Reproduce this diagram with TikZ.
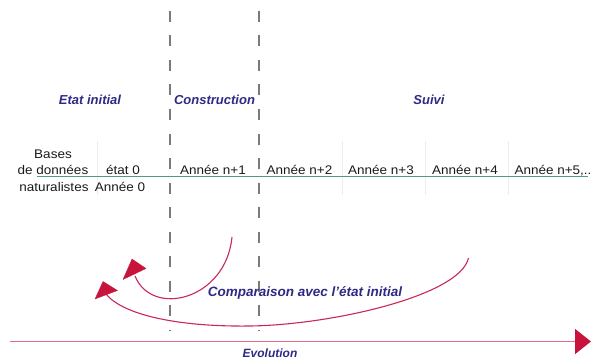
\documentclass[tikz,border=0pt]{standalone}
\usepackage{fontspec}
\setmainfont{Liberation Sans}
\newfontfamily\regfont[FakeStretch=1.08]{Liberation Sans}
\usetikzlibrary{arrows.meta}
\definecolor{navy}{HTML}{2E2A85}
\definecolor{curvered}{HTML}{C8285A}
\definecolor{headred}{HTML}{C8143C}
\definecolor{axispink}{RGB}{222,110,140}
\definecolor{lineGreen}{HTML}{4F9E7A}
\definecolor{dashgray}{HTML}{7A7A7A}
\definecolor{txt}{HTML}{1A1A1A}
\tikzset{
  header/.style={font=\fontsize{13}{15}\selectfont\bfseries\itshape, text=navy, inner sep=0pt, anchor=base},
  cell/.style={font=\regfont\fontsize{12.5}{16.5}\selectfont, text=txt, inner sep=0pt, anchor=base},
  phase/.style={draw=dashgray, line width=1.8pt, dash pattern=on 11pt off 13.5pt},
  sep/.style={draw=black!7, line width=0.8pt},
  compcurve/.style={draw=curvered, line width=1.1pt},
  tipfill/.style={fill=headred, draw=headred, line width=0.3pt, line join=round},
  axisline/.style={draw=axispink, line width=1.6pt, -{Triangle[length=16pt,width=25pt,color=headred,fill=headred]}}
}
\begin{document}
\begin{tikzpicture}[x=1pt, y=-1pt]
\useasboundingbox (0,0) rectangle (592,361);
% faint cell separators
\foreach \xx in {97,342,425,508} \draw[sep] (\xx,141) -- (\xx,195);
% phase dividers
\coordinate (d1top) at (170,11); \coordinate (d1bot) at (170,330);
\coordinate (d2top) at (259,11); \coordinate (d2bot) at (259,330);
\draw[phase] (d1top) -- (d1bot);
\draw[phase] (d2top) -- (d2bot);
% headers
\node[header] (etat) at (90,105) {Etat initial};
\node[header] (constr) at (214.5,105) {Construction};
\node[header] (suivi) at (429,105) {Suivi};
% timeline
\coordinate (gl) at (37,176.5); \coordinate (gr) at (588,176.5);
\draw[draw=lineGreen, line width=1.2pt] (gl) -- (gr);
\node[cell] (b1) at (53,158) {Bases};
\node[cell] (b2) at (53,174.5) {de données};
\node[cell] (b3) at (54,191) {naturalistes};
\node[cell] (e0) at (123,174.5) {état 0};
\node[cell] (a0) at (120,191) {Année 0};
\node[cell] (a1) at (213,174.5) {Année n+1};
\node[cell] (a2) at (299.5,174.5) {Année n+2};
\node[cell] (a3) at (381,174.5) {Année n+3};
\node[cell] (a4) at (465,174.5) {Année n+4};
\node[cell] (a5) at (553,174.5) {Année n+5,..};
% comparison curves
\coordinate (c1s) at (232,237); \coordinate (c1e) at (135,276);
\draw[compcurve] (c1s) .. controls (226,300) and (152,318) .. (c1e);
\fill[tipfill] (132,259) -- (146,268.5) -- (123,279.5) -- cycle;
\coordinate (c2s) at (468.5,258); \coordinate (c2m) at (250,326); \coordinate (c2e) at (106,294);
\draw[compcurve] (c2s) .. controls (460,296) and (330,325) .. (c2m)
  .. controls (175,327) and (122,314) .. (c2e);
\fill[tipfill] (103,281.5) -- (117.5,290.5) -- (95,299) -- cycle;
\node[header, font=\fontsize{13.5}{16}\selectfont\bfseries\itshape] (comp) at (305,296) {Comparaison avec l'état initial};
% evolution axis
\coordinate (evs) at (10,341.5); \coordinate (eve) at (591,341.5);
\draw[axisline] (evs) -- (eve);
\node[header, font=\fontsize{12}{14}\selectfont\bfseries\itshape] (evo) at (270,357) {Evolution};
\end{tikzpicture}
\end{document}
